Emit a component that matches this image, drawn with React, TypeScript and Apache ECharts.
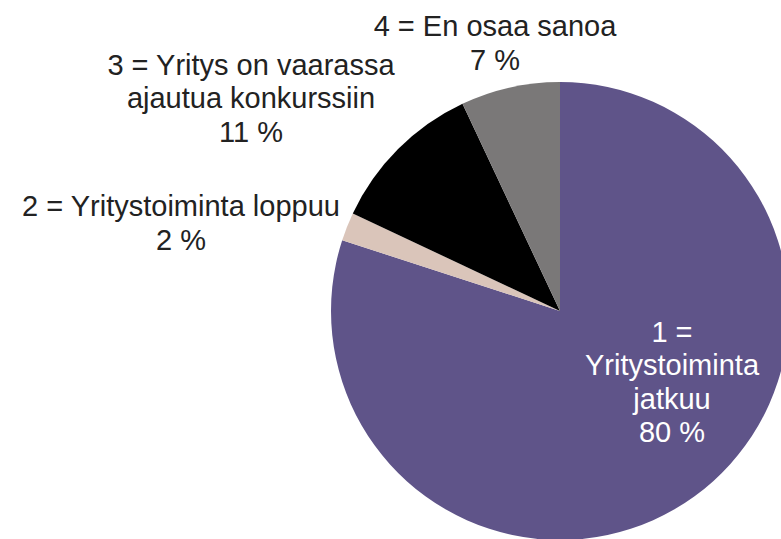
import React, { useEffect, useRef } from "react";
import * as echarts from "echarts";

const categories: string[] = [
  "1 =\nYritystoiminta\njatkuu",
  "2 = Yritystoiminta loppuu",
  "3 = Yritys on vaarassa\najautua konkurssiin",
  "4 = En osaa sanoa",
];
const values: number[] = [80, 2, 11, 7];
const colors: string[] = ["#5F5489", "#DAC5BA", "#000000", "#7A7878"];
const labelColors: string[] = ["#ffffff", "#222222", "#222222", "#222222"];
const labelCenters: number[][] = [
  [672, 382],
  [181, 223],
  [251, 98],
  [495, 43],
];

export default function App() {
  const ref = useRef<HTMLDivElement>(null);
  useEffect(() => {
    if (!ref.current) return;
    const chart = echarts.init(ref.current, null, { renderer: "svg" });
    chart.setOption({
      animation: false,
      backgroundColor: "#ffffff",
      series: [
        {
          type: "pie",
          center: [560, 311],
          radius: 229,
          startAngle: 90,
          clockwise: true,
          avoidLabelOverlap: false,
          itemStyle: { borderWidth: 0 },
          label: {
            show: true,
            position: "outside",
            fontFamily: "'Liberation Sans', Arial, sans-serif",
            fontSize: 29,
            lineHeight: 33.5,
            align: "center",
            formatter: (p: any) => `${p.name}\n${p.value} %`,
          },
          labelLine: { show: false },
          labelLayout: (params: any) => {
            const c = labelCenters[params.dataIndex];
            return { x: c[0], y: c[1], align: "center", verticalAlign: "middle" };
          },
          emphasis: { disabled: true },
          data: categories.map((name, i) => ({
            name,
            value: values[i],
            itemStyle: { color: colors[i] },
            label: { color: labelColors[i] },
          })),
        },
      ],
    });
    return () => chart.dispose();
  }, []);
  return (
    <div
      ref={ref}
      style={{ position: "fixed", left: 0, top: 0, width: 781, height: 539 }}
    />
  );
}
